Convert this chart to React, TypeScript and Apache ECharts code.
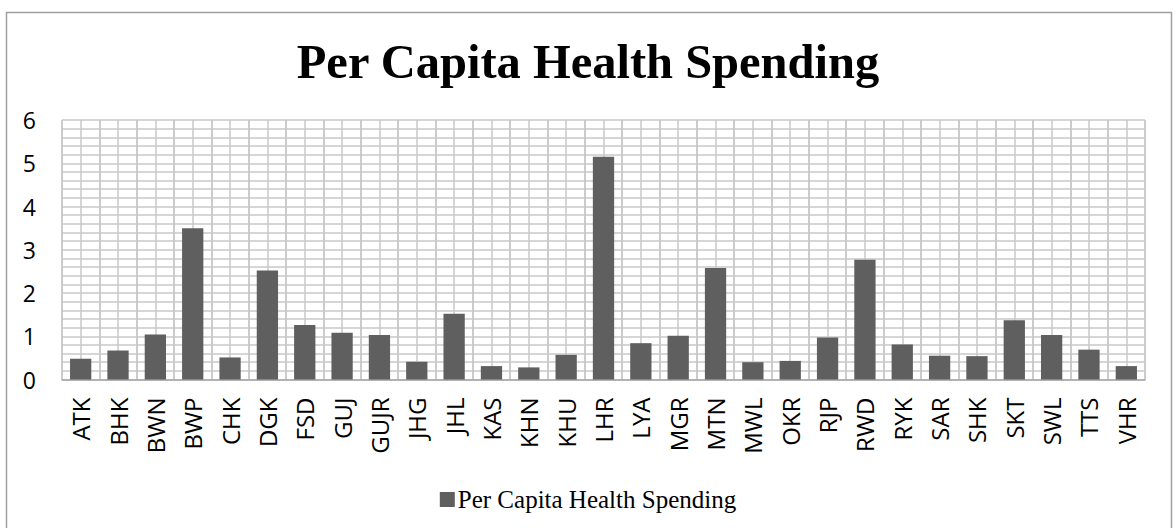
import React, { useEffect, useRef } from "react";
import * as echarts from "echarts";

const categories = ["ATK","BHK","BWN","BWP","CHK","DGK","FSD","GUJ","GUJR","JHG","JHL","KAS","KHN","KHU","LHR","LYA","MGR","MTN","MWL","OKR","RJP","RWD","RYK","SAR","SHK","SKT","SWL","TTS","VHR"];
const values = [0.48,0.67,1.04,3.5,0.51,2.52,1.26,1.08,1.03,0.41,1.52,0.31,0.28,0.57,5.15,0.84,1.01,2.58,0.4,0.43,0.97,2.77,0.81,0.55,0.54,1.37,1.03,0.69,0.31];
const seriesName = "Per Capita Health Spending";
const titleText = "Per Capita Health Spending";

export default function App() {
  const ref = useRef<HTMLDivElement>(null);
  useEffect(() => {
    if (!ref.current) return;
    const chart = echarts.init(ref.current, null, { renderer: "svg" });
    const halfCats = categories.flatMap((c) => [c + "_a", c + "_b"]);
    chart.setOption({
      animation: false,
      backgroundColor: "#ffffff",
      title: {
        text: titleText,
        left: "center",
        top: 32,
        textStyle: { fontFamily: "Liberation Serif", fontWeight: "bold", fontSize: 48.5, color: "#000" },
      },
      graphic: [
        {
          type: "rect",
          shape: { x: 6.5, y: 12.5, width: 1165, height: 540 },
          style: { fill: "none", stroke: "#a0a0a0", lineWidth: 1.5 },
          silent: true,
          z: -1,
        },
      ],
      legend: {
        data: [seriesName],
        left: "center",
        top: 482,
        icon: "rect",
        itemWidth: 15,
        itemHeight: 15,
        itemGap: 3,
        textStyle: { fontFamily: "Liberation Serif", fontSize: 25, color: "#000", padding: [0, 0, 0, -2] },
      },
      grid: { left: 62, right: 31, top: 120, bottom: 148.5 },
      xAxis: [
        {
          type: "category",
          data: categories,
          axisLine: { lineStyle: { color: "#a6a6a6", width: 1.5 } },
          axisTick: { show: false },
          splitLine: { show: true, lineStyle: { color: "#c8c8c8", width: 1.5 } },
          axisLabel: {
            rotate: 90,
            interval: 0,
            margin: 18,
            fontFamily: "Open Sans",
            fontSize: 24,
            color: "#000",
          },
        },
        {
          type: "category",
          data: halfCats,
          position: "bottom",
          axisLine: { show: false },
          axisTick: { show: false },
          axisLabel: { show: false },
          splitLine: { show: true, interval: 0, lineStyle: { color: "#c8c8c8", width: 1.5 } },
        },
      ],
      yAxis: {
        type: "value",
        min: 0,
        max: 6,
        interval: 1,
        axisLine: { show: false },
        axisTick: { show: false },
        axisLabel: { margin: 26, fontFamily: "Open Sans", fontSize: 23, color: "#000" },
        splitLine: { show: true, lineStyle: { color: "#c8c8c8", width: 1.5 } },
        minorTick: { show: false, splitNumber: 5 },
        minorSplitLine: { show: true, lineStyle: { color: "#c8c8c8", width: 1.5 } },
      },
      series: [
        {
          name: seriesName,
          type: "bar",
          xAxisIndex: 0,
          data: values,
          barCategoryGap: "43%",
          itemStyle: { color: "#5f5f5f" },
          z: 3,
        },
      ],
    });
    return () => chart.dispose();
  }, []);
  return <div ref={ref} style={{ position: "absolute", left: 0, top: 0, width: 1176, height: 528 }} />;
}
